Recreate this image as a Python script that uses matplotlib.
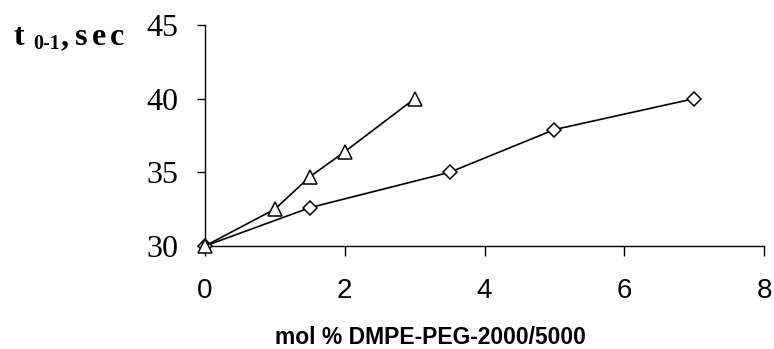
import matplotlib
matplotlib.use("Agg")
import matplotlib.pyplot as plt

# data
x_peg2000 = [0, 1, 1.5, 2, 3]
t_peg2000 = [30, 32.5, 34.7, 36.4, 40]
x_peg5000 = [0, 1.5, 3.5, 5, 7]
t_peg5000 = [30, 32.6, 35.0, 37.9, 40]

x_ticks = [0, 2, 4, 6, 8]
y_ticks = [30, 35, 40, 45]

W, H = 774, 349
fig = plt.figure(figsize=(W / 100, H / 100), dpi=100)
ax = fig.add_axes([205 / W, 1 - 246 / H, (764 - 205) / W, (246 - 25) / H])

ax.plot(x_peg5000, t_peg5000, color="black", linewidth=1.2, marker="D",
        markersize=7, markerfacecolor="white", markeredgecolor="black",
        markeredgewidth=1.1, clip_on=False, zorder=3)
ax.plot(x_peg2000, t_peg2000, color="black", linewidth=1.2, marker="^",
        markersize=10, markerfacecolor="white", markeredgecolor="black",
        markeredgewidth=1.1, clip_on=False, zorder=4)

ax.set_xlim(0, 8)
ax.set_ylim(30, 45)
ax.set_xticks(x_ticks)
ax.set_yticks(y_ticks)
ax.spines["top"].set_visible(False)
ax.spines["right"].set_visible(False)
for s in ("left", "bottom"):
    ax.spines[s].set_linewidth(1.0)

ax.tick_params(axis="y", direction="out", length=6, width=1, pad=13)
ax.tick_params(axis="x", direction="out", length=7, width=1, pad=16)
for lbl in ax.get_yticklabels():
    lbl.set_fontfamily("Liberation Serif")
    lbl.set_fontsize(23)
for lbl in ax.get_xticklabels():
    lbl.set_fontfamily("Liberation Sans")
    lbl.set_fontsize(20)

# x axis title
fig.text(430 / W, 1 - 337 / H, "mol % DMPE-PEG-2000/5000",
         family="Liberation Sans", fontweight="bold", fontsize=16.5,
         ha="center", va="center")

# y axis title at top left: t with subscript 0-1, letters spaced out
title_font = dict(family="Liberation Serif", fontweight="bold",
                  ha="left", va="baseline")
fig.text(13 / W, 1 - 45 / H, "t", fontsize=23, **title_font)
fig.text(33 / W, 1 - 49 / H, "0-1", fontsize=14.5, **title_font)
for ch, px in zip([",", "s", "e", "c"], [61, 75, 92, 110]):
    fig.text(px / W, 1 - 45 / H, ch, fontsize=23, **title_font)

fig.savefig("out.png", dpi=100)
